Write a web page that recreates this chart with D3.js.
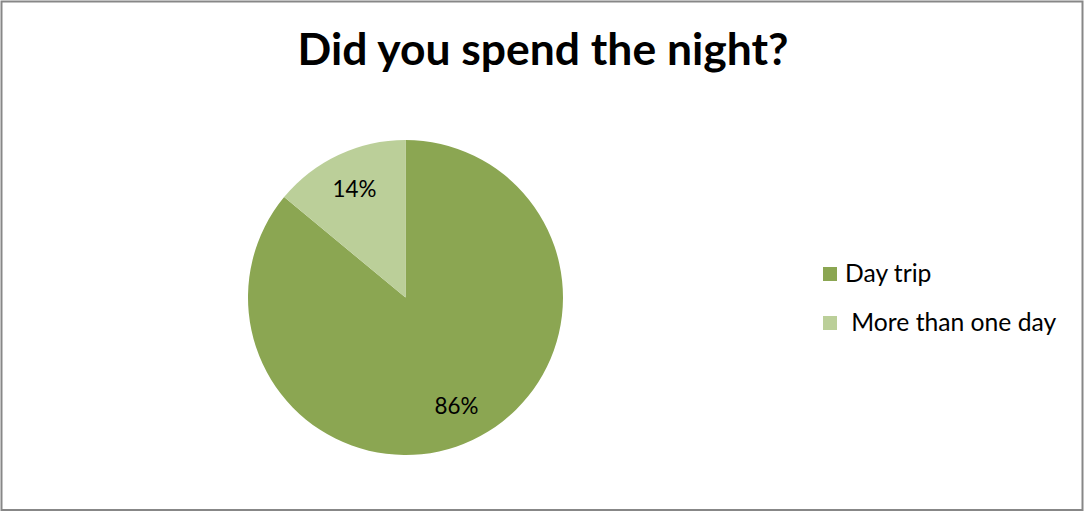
<!DOCTYPE html>
<html>
<head>
<meta charset="utf-8">
<script src="https://cdn.jsdelivr.net/npm/d3@7"></script>
<style>
  html, body { margin: 0; padding: 0; background: #fff; }
  svg { display: block; }
</style>
</head>
<body>
<svg id="chart" width="1085" height="512"></svg>
<script>
const title = "Did you spend the night?";
const categories = ["Day trip", "More than one day"];
const legendLabels = ["Day trip", " More than one day"];
const values = [86, 14];
const colors = ["#8BA652", "#BBCF99"];

const W = 1085, H = 512;
const svg = d3.select("#chart");
const font = "Lato, 'Open Sans', sans-serif";

function fitSize(sel, base, target) {
  sel.attr("font-size", base);
  const w = sel.node().getComputedTextLength();
  const s = base * target / w;
  sel.attr("font-size", s);
  return s;
}

// border
svg.append("rect")
  .attr("x", 1.5).attr("y", 1.5)
  .attr("width", W - 4).attr("height", H - 3.5)
  .attr("fill", "#fff").attr("stroke", "#878787").attr("stroke-width", 2);

// title
const t = svg.append("text")
  .attr("x", 543).attr("y", 65)
  .attr("text-anchor", "middle")
  .attr("font-family", font).attr("font-weight", "bold")
  .attr("fill", "#000")
  .text(title);
fitSize(t, 34, 491);

// pie
const cx = 405.5, cy = 297.5, r = 157.5;
const g = svg.append("g").attr("transform", `translate(${cx},${cy})`);
const pie = d3.pie().sort(null).value(d => d)(values);
const arc = d3.arc().innerRadius(0).outerRadius(r);
const labelArc = d3.arc().innerRadius(120).outerRadius(120);
const total = d3.sum(values);

g.selectAll("path").data(pie).enter().append("path")
  .attr("d", arc)
  .attr("fill", (d, i) => colors[i]);

const lbls = g.selectAll("text.lbl").data(pie).enter().append("text")
  .attr("class", "lbl")
  .attr("transform", d => {
    const c = labelArc.centroid(d);
    return `translate(${c[0]},${c[1]})`;
  })
  .attr("text-anchor", "middle")
  .attr("dy", "0.35em")
  .attr("font-family", font)
  .attr("fill", "#000")
  .text(d => Math.round(d.data / total * 100) + "%");
const ls = fitSize(d3.select(lbls.nodes()[1]), 20, 44);
lbls.attr("font-size", ls);

// legend
const ly = d3.scalePoint().domain(categories).range([274, 323]);
const lg = svg.append("g");
const probe = svg.append("text").attr("font-family", font).text(categories[1]);
const legSize = fitSize(probe, 20, 205);
probe.remove();
categories.forEach((c, i) => {
  lg.append("rect")
    .attr("x", 823).attr("y", ly(c) - 7)
    .attr("width", 14).attr("height", 14)
    .attr("fill", colors[i]);
  lg.append("text")
    .attr("x", 845).attr("y", ly(c) + 7.5)
    .attr("font-family", font).attr("font-size", legSize)
    .attr("fill", "#000")
    .attr("xml:space", "preserve")
    .style("white-space", "pre")
    .text(legendLabels[i]);
});
</script>
</body>
</html>
